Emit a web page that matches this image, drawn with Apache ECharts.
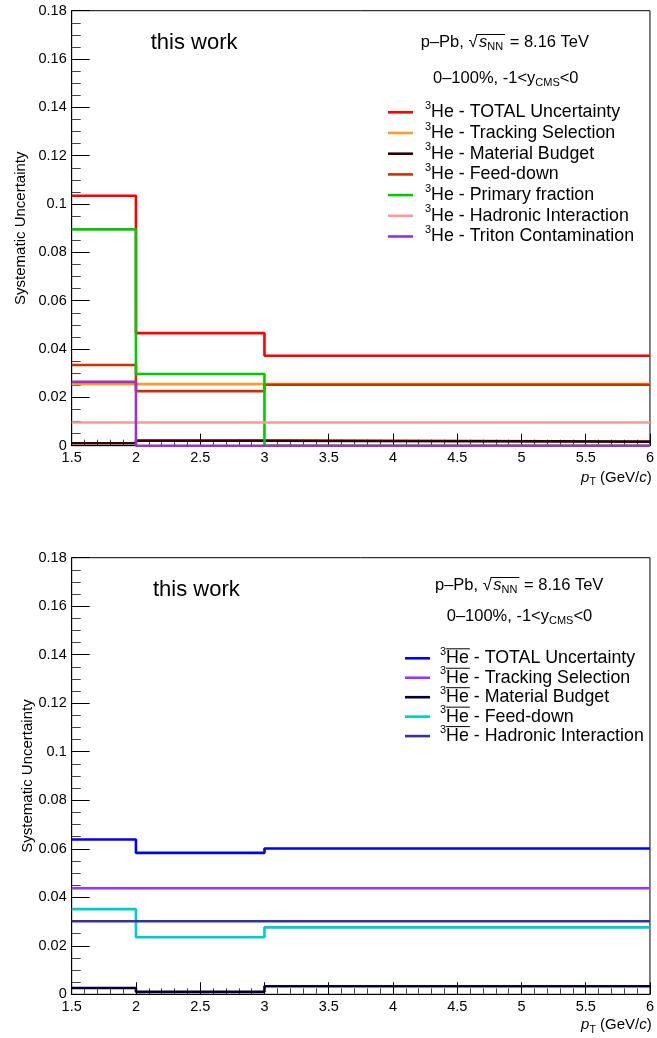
<!DOCTYPE html>
<html>
<head>
<meta charset="utf-8">
<script src="https://cdn.jsdelivr.net/npm/echarts@6/dist/echarts.min.js"></script>
<style>
  html, body { margin: 0; padding: 0; background: #fff; }
  #chart { width: 657px; height: 1038px; }
</style>
</head>
<body>
<div id="chart"></div>
<script>
// pT bin edges (GeV/c) shared by every histogram
const ptEdges = [1.5, 2, 3, 6];

// 3He systematic uncertainties per pT bin
const heTotal    = [0.1034, 0.0466, 0.0372];
const heTracking = [0.0255, 0.0255, 0.0255];
const heMaterial = [0.0010, 0.0021, 0.0017];
const heFeedDown = [0.0334, 0.0226, 0.0252];
const hePrimary  = [0.0895, 0.0297, 0.0];
const heHadronic = [0.0096, 0.0096, 0.0096];
const heTriton   = [0.0264, 0.0, 0.0];

// anti-3He systematic uncertainties per pT bin
const aheTotal    = [0.0638, 0.0583, 0.0601];
const aheTracking = [0.0437, 0.0437, 0.0437];
const aheMaterial = [0.0026, 0.0010, 0.0033];
const aheFeedDown = [0.0351, 0.0235, 0.0276];
const aheHadronic = [0.0301, 0.0301, 0.0301];

const heNames = ['TOTAL Uncertainty', 'Tracking Selection', 'Material Budget', 'Feed-down',
                 'Primary fraction', 'Hadronic Interaction', 'Triton Contamination'];
const aheNames = ['TOTAL Uncertainty', 'Tracking Selection', 'Material Budget', 'Feed-down',
                  'Hadronic Interaction'];

// axis ranges / tick steps
const yMin = 0, yMax = 0.18, yStep = 0.02;
const xMin = 1.5, xMax = 6, xStep = 0.5;

const heColors  = ['#ff0000', '#ff9933', '#330000', '#cc3300', '#00cc00', '#ff9999', '#9933cc'];
const aheColors = ['#0000ff', '#9933ff', '#000033', '#00cccc', '#333399'];

const FONT = '"Liberation Sans", Arial, Helvetica, sans-serif';

// turn bin contents into step-line points: one point per lower edge plus the last upper edge
function histPoints(values) {
  const pts = values.map((v, i) => [ptEdges[i], v]);
  pts.push([ptEdges[ptEdges.length - 1], values[values.length - 1]]);
  return pts;
}

const measureCtx = document.createElement('canvas').getContext('2d');
function textWidth(str, size, italic) {
  measureCtx.font = (italic ? 'italic ' : '') + size + 'px ' + FONT;
  return measureCtx.measureText(str).width;
}
function textEl(str, x, y, size, italic) {
  return {
    type: 'text', silent: true, z: 100,
    style: {
      text: str, x: x, y: y, fill: '#000',
      fontSize: size, fontFamily: FONT, fontStyle: italic ? 'italic' : 'normal',
      align: 'left', verticalAlign: 'middle', textAlign: 'left', textVerticalAlign: 'middle'
    }
  };
}
// lay out pieces {t, s, dy, i, pad} left to right starting at x (or ending at x when alignRight)
function textRun(x, y, pieces, alignRight) {
  const widths = pieces.map(p => textWidth(p.t, p.s, p.i) + (p.pad || 0));
  const total = widths.reduce((a, b) => a + b, 0);
  let cx = alignRight ? x - total : x;
  const els = [];
  const spans = [];
  pieces.forEach((p, k) => {
    els.push(textEl(p.t, cx, y + (p.dy || 0), p.s, p.i));
    spans.push([cx, cx + widths[k]]);
    cx += widths[k];
  });
  return { els, spans };
}
function lineEl(x1, y1, x2, y2, color, w) {
  return { type: 'line', silent: true, z: 100,
           shape: { x1, y1, x2, y2 }, style: { stroke: color, lineWidth: w } };
}

// panel geometry
const panels = [
  { top: 10.7, height: 435.0 },
  { top: 557.7, height: 436.6 }
];
const gridLeft = 71.7, gridRight = 657 - 651.7;

function xAxisFor(i) {
  return {
    gridIndex: i, type: 'value', min: xMin, max: xMax, interval: xStep,
    axisLine: { show: true, onZero: false, lineStyle: { color: '#000', width: 1 } },
    axisTick: { show: true, inside: true, length: 12, lineStyle: { color: '#000', width: 1 } },
    minorTick: { show: true, splitNumber: 5, length: 6, lineStyle: { color: '#444', width: 1 } },
    splitLine: { show: false },
    axisLabel: { show: true, margin: 5, fontSize: 14.5, fontFamily: FONT, color: '#000',
                 showMinLabel: true, showMaxLabel: true, hideOverlap: false }
  };
}
function yAxisFor(i, gap) {
  return {
    gridIndex: i, type: 'value', min: yMin, max: yMax, interval: yStep,
    name: 'Systematic Uncertainty', nameLocation: 'middle', nameGap: gap, nameRotate: 90,
    nameMoveOverlap: false,
    nameTextStyle: { fontSize: 15, fontFamily: FONT, color: '#000' },
    axisLine: { show: true, onZero: false, lineStyle: { color: '#000', width: 1 } },
    axisTick: { show: true, inside: true, length: 18, lineStyle: { color: '#000', width: 1 } },
    minorTick: { show: true, splitNumber: 4, length: 9, lineStyle: { color: '#444', width: 1 } },
    splitLine: { show: false },
    axisLabel: { show: true, margin: 5, fontSize: 14.5, fontFamily: FONT, color: '#000',
                 showMinLabel: true, showMaxLabel: true, hideOverlap: false }
  };
}

const heSets  = [heTotal, heTracking, heMaterial, heFeedDown, hePrimary, heHadronic, heTriton];
const aheSets = [aheTotal, aheTracking, aheMaterial, aheFeedDown, aheHadronic];

const series = [];
heSets.forEach((vals, k) => series.push({
  name: '3He - ' + heNames[k], type: 'line', step: 'end', xAxisIndex: 0, yAxisIndex: 0,
  data: histPoints(vals), symbol: 'none', clip: false, animation: false,
  lineStyle: { color: heColors[k], width: 2.6 }, itemStyle: { color: heColors[k] }, z: 10 + k
}));
aheSets.forEach((vals, k) => series.push({
  name: 'anti-3He - ' + aheNames[k], type: 'line', step: 'end', xAxisIndex: 1, yAxisIndex: 1,
  data: histPoints(vals), symbol: 'none', clip: false, animation: false,
  lineStyle: { color: aheColors[k], width: 2.6 }, itemStyle: { color: aheColors[k] }, z: 10 + k
}));

// text and legend graphics
const graphics = [];
const yOff = panels[1].top - panels[0].top;

function panelHeader(x1, y1, x2, y2, xWork, yWork) {
  graphics.push(textEl('this work', xWork, yWork, 22, false));
  const S = 16.5, s = 11;
  const run = textRun(x1, y1, [
    { t: 'p\u2013Pb, ', s: S }, { t: '\u221A', s: S, pad: 1.5 }, { t: 's', s: S, i: true },
    { t: 'NN', s: s, dy: 4.5, pad: 2 }, { t: ' = 8.16 TeV', s: S }
  ]);
  graphics.push(...run.els);
  // radical bar over s_NN
  graphics.push(lineEl(run.spans[1][1] - 2.5, y1 - 7.5, run.spans[3][1], y1 - 7.5, '#000', 1));
  const run2 = textRun(x2, y2, [
    { t: '0\u2013100%, -1<y', s: S }, { t: 'CMS', s: s, dy: 4.5 }, { t: '<0', s: S }
  ]);
  graphics.push(...run2.els);
}
panelHeader(420.7, 42, 433, 78, 150.7, 42.5);
panelHeader(435, 585, 446.7, 616, 153, 42.5 + yOff + 0.5);

function legendBlock(names, colors, xLine, xText, y0, step, anti) {
  names.forEach((nm, k) => {
    const y = y0 + k * step;
    graphics.push(lineEl(xLine, y, xLine + 25, y, colors[k], 2.6));
    const run = textRun(xText, y, [
      { t: '3', s: 11, dy: -6.5 }, { t: 'He', s: 17.8 }, { t: ' - ' + nm, s: 17.8 }
    ]);
    graphics.push(...run.els);
    if (anti) {
      graphics.push(lineEl(run.spans[1][0], y - 9.5, run.spans[1][1] + 1, y - 9.5, '#000', 1));
    }
  });
}
legendBlock(heNames, heColors, 388, 425, 112.3, 20.7, false);
legendBlock(aheNames, aheColors, 405, 440, 658.3, 19.45, true);

// x axis titles
function xTitle(y) {
  const run = textRun(651.7, y, [
    { t: 'p', s: 15, i: true }, { t: 'T', s: 10.5, dy: 5 },
    { t: ' (GeV/', s: 15 }, { t: 'c', s: 15, i: true }, { t: ')', s: 15 }
  ], true);
  graphics.push(...run.els);
}
xTitle(477.5);
xTitle(477.5 + yOff + 0.8);

const chart = echarts.init(document.getElementById('chart'), null, { renderer: 'canvas' });
chart.setOption({
  backgroundColor: '#fff',
  animation: false,
  grid: panels.map(p => ({
    left: gridLeft, right: gridRight, top: p.top, height: p.height,
    show: true, borderColor: '#000', borderWidth: 1, backgroundColor: 'transparent', containLabel: false
  })),
  xAxis: [xAxisFor(0), xAxisFor(1)],
  yAxis: [yAxisFor(0, 43), yAxisFor(1, 36)],
  series: series,
  graphic: { elements: graphics }
});
</script>
</body>
</html>
